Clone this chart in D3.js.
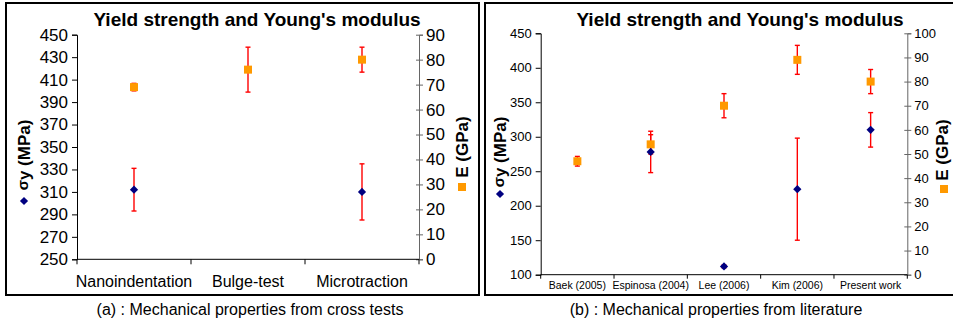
<!DOCTYPE html>
<html>
<head>
<meta charset="utf-8">
<script src="https://cdn.jsdelivr.net/npm/d3@7"></script>
<style>
  body { margin: 0; background: #fff; }
  svg { display: block; font-family: Arial, "Liberation Sans", sans-serif; }
</style>
</head>
<body>
<svg id="chart" width="953" height="321"></svg>
<script>
// (a) cross tests
var crossCategories = ["Nanoindentation", "Bulge-test", "Microtraction"];
var crossYield = [312, null, 310];          // sigma_y (MPa)
var crossYieldErr = [19, null, 25];
var crossModulus = [69, 76, 80];            // E (GPa)
var crossModulusErr = [1.5, 9, 5];
var crossYieldTicks = [250, 270, 290, 310, 330, 350, 370, 390, 410, 430, 450];
var crossModulusTicks = [0, 10, 20, 30, 40, 50, 60, 70, 80, 90];

// (b) literature
var litCategories = ["Baek (2005)", "Espinosa (2004)", "Lee (2006)", "Kim (2006)", "Present work"];
var litYield = [null, 278, 112, 224, 310];
var litYieldErr = [null, 30, 2, 74, 25];
var litModulus = [47, 54, 70, 89, 80];
var litModulusErr = [2, 4, 5, 6, 5];
var litYieldTicks = [100, 150, 200, 250, 300, 350, 400, 450];
var litModulusTicks = [0, 10, 20, 30, 40, 50, 60, 70, 80, 90, 100];

var svg = d3.select("#chart");

function drawPanel(p) {
    var g = svg.append("g");

    // frame
    g.append("rect").attr("x", p.box[0]).attr("y", p.box[1])
        .attr("width", p.box[2]).attr("height", p.box[3])
        .attr("fill", "none").attr("stroke", "#000").attr("stroke-width", 2);

    var x = d3.scaleBand().domain(p.cats).range([p.x0, p.x1]);
    var yL = d3.scaleLinear().domain(d3.extent(p.yTicks)).range([p.yBot, p.yTop]);
    var yR = d3.scaleLinear().domain(d3.extent(p.eTicks)).range([p.yBot, p.yTop]);

    // left axis
    var ax = g.append("g").attr("transform", "translate(" + p.x0 + ",0)")
        .call(d3.axisLeft(yL).tickValues(p.yTicks).tickSizeOuter(0).tickSize(5).tickPadding(4));
    ax.selectAll("text").attr("font-size", p.tickFont).attr("fill", "#000").attr("font-family", null);
    ax.select(".domain").attr("stroke", "#000");

    // right axis (grey, ticks crossing)
    var ar = g.append("g").attr("transform", "translate(" + p.x1 + ",0)")
        .call(d3.axisRight(yR).tickValues(p.eTicks).tickSizeOuter(0).tickSize(4).tickPadding(3));
    ar.selectAll(".tick line").attr("x1", -3).attr("stroke", "#666");
    ar.select(".domain").attr("stroke", "#666");
    ar.selectAll("text").attr("font-size", p.tickFont).attr("fill", "#000").attr("font-family", null);

    // x axis: line, ticks at category boundaries, labels at centres
    g.append("line").attr("x1", p.x0).attr("x2", p.x1).attr("y1", p.yBot).attr("y2", p.yBot)
        .attr("stroke", "#000");
    var bounds = p.cats.map(function(c) { return x(c); }).concat([p.x1]);
    g.selectAll(".xt").data(bounds).enter().append("line")
        .attr("x1", d => d).attr("x2", d => d)
        .attr("y1", p.yBot).attr("y2", p.yBot + p.xTick)
        .attr("stroke", "#000");
    g.selectAll(".xl").data(p.cats).enter().append("text")
        .attr("x", d => x(d) + x.bandwidth() / 2).attr("y", p.catY)
        .attr("text-anchor", "middle").attr("font-size", p.catFont)
        .text(d => d);

    // error bars
    function errBars(vals, errs, scale) {
        vals.forEach(function(v, i) {
            if (v == null || !errs[i]) return;
            var cx = x(p.cats[i]) + x.bandwidth() / 2;
            var y1 = scale(v - errs[i]), y2 = scale(v + errs[i]);
            var eg = g.append("g").attr("stroke", "#ff0000").attr("stroke-width", 1.4);
            eg.append("line").attr("x1", cx).attr("x2", cx).attr("y1", y1).attr("y2", y2);
            eg.append("line").attr("x1", cx - 2.5).attr("x2", cx + 2.5).attr("y1", y1).attr("y2", y1);
            eg.append("line").attr("x1", cx - 2.5).attr("x2", cx + 2.5).attr("y1", y2).attr("y2", y2);
        });
    }
    errBars(p.mod, p.modErr, yR);
    errBars(p.yld, p.yldErr, yL);

    var diamond = d3.symbol().type(d3.symbolSquare).size(34);

    // modulus squares
    p.mod.forEach(function(v, i) {
        g.append("rect").attr("x", x(p.cats[i]) + x.bandwidth() / 2 - 4).attr("y", yR(v) - 4)
            .attr("width", 8).attr("height", 8).attr("fill", "#ff9900");
    });
    // yield diamonds
    p.yld.forEach(function(v, i) {
        if (v == null) return;
        g.append("path").attr("d", diamond)
            .attr("transform", "translate(" + (x(p.cats[i]) + x.bandwidth() / 2) + "," + yL(v) + ") rotate(45)")
            .attr("fill", "#000080");
    });

    // title
    g.append("text").attr("x", p.titleX).attr("y", 25.5).attr("text-anchor", "middle")
        .attr("font-size", 19).attr("font-weight", "bold").text("Yield strength and Young's modulus");

    // axis titles with legend markers
    var lt = g.append("text").attr("transform", "translate(" + p.lTitle[0] + "," + p.lTitle[1] + ") rotate(-90)")
        .attr("text-anchor", "middle").attr("font-size", 17).attr("font-weight", "bold");
    lt.append("tspan").attr("font-size", 15).attr("dy", -2).text("σ");
    lt.append("tspan").attr("dy", 2).text("y (MPa)");
    g.append("path").attr("d", diamond)
        .attr("transform", "translate(" + p.lMark[0] + "," + p.lMark[1] + ") rotate(45)")
        .attr("fill", "#000080");

    g.append("text").attr("transform", "translate(" + p.rTitle[0] + "," + p.rTitle[1] + ") rotate(-90)")
        .attr("text-anchor", "middle").attr("font-size", 17).attr("font-weight", "bold")
        .text("E (GPa)");
    g.append("rect").attr("x", p.rMark[0] - 4).attr("y", p.rMark[1] - 4)
        .attr("width", 8).attr("height", 8).attr("fill", "#ff9900");

    // caption
    svg.append("text").attr("x", p.capX).attr("y", 315).attr("text-anchor", "middle")
        .attr("font-size", 16).text(p.caption);
}

drawPanel({
    box: [6, 3, 473, 292],
    cats: crossCategories, yld: crossYield, yldErr: crossYieldErr,
    mod: crossModulus, modErr: crossModulusErr,
    yTicks: crossYieldTicks, eTicks: crossModulusTicks,
    x0: 77, x1: 419, yTop: 34.7, yBot: 259.3,
    tickFont: 17, catFont: 16, catY: 287, xTick: 5,
    titleX: 257, lTitle: [30, 155], lMark: [24, 201],
    rTitle: [468, 147], rMark: [462, 187],
    capX: 250, caption: "(a) : Mechanical properties from cross tests"
});

drawPanel({
    box: [485, 3, 480, 292],
    cats: litCategories, yld: litYield, yldErr: litYieldErr,
    mod: litModulus, modErr: litModulusErr,
    yTicks: litYieldTicks, eTicks: litModulusTicks,
    x0: 540.7, x1: 907.3, yTop: 33.3, yBot: 274.7,
    tickFont: 13, catFont: 10.5, catY: 289, xTick: 4,
    titleX: 740, lTitle: [506, 152], lMark: [500, 194],
    rTitle: [948, 150], rMark: [944, 189],
    capX: 716, caption: "(b) : Mechanical properties from literature"
});
</script>
</body>
</html>
